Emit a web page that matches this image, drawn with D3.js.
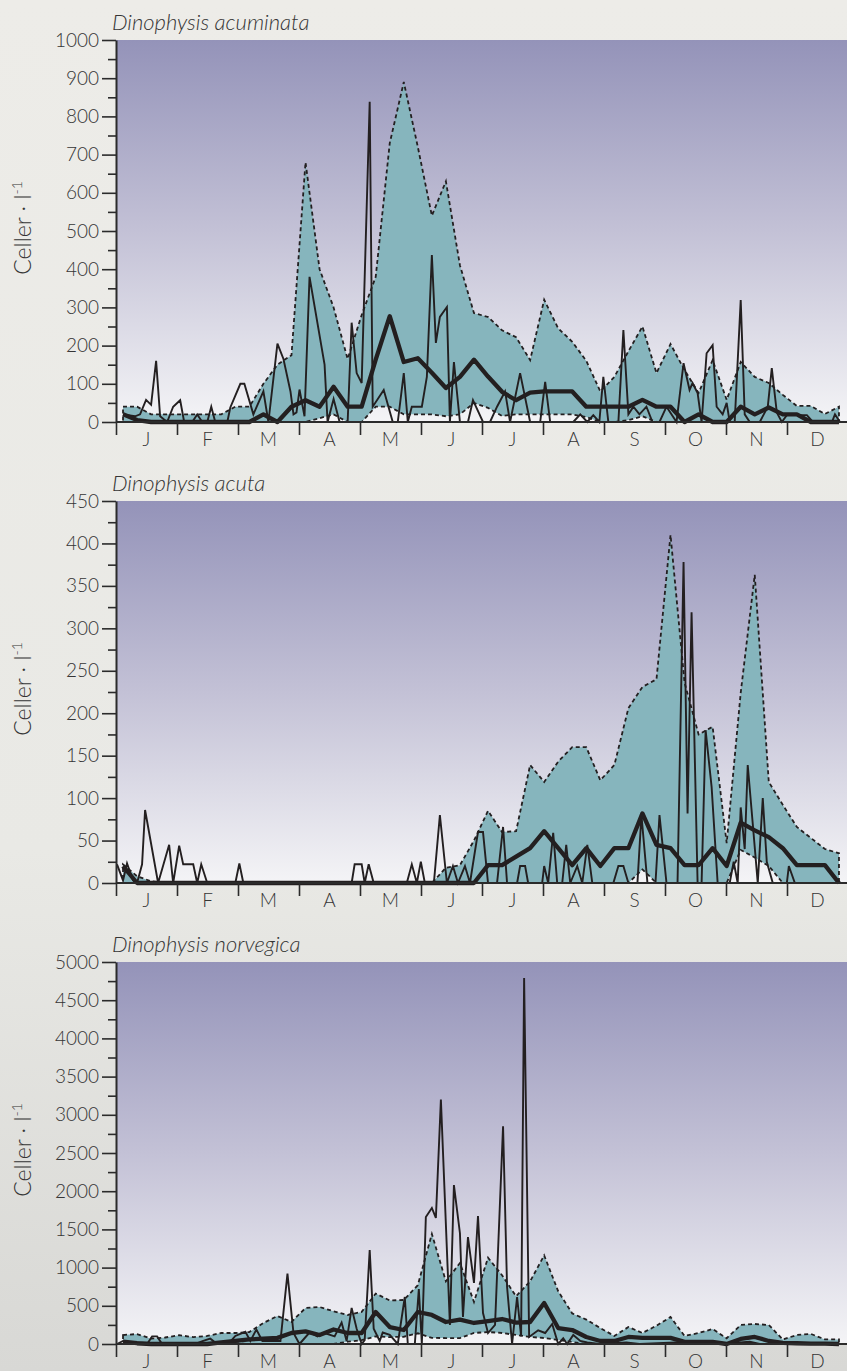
<!doctype html>
<html>
<head>
  <meta charset="utf-8">
  <style>
    html, body { margin:0; padding:0; }
    body {
      width:847px; height:1371px; overflow:hidden;
      background:linear-gradient(#edece8 0%, #e9e9e5 62%, #d8d8d5 100%);
    }
    svg { display:block; }
    text { font-family:Lato, "Open Sans", sans-serif; font-weight:300; fill:#353535; }
  </style>
  <script src="https://cdn.jsdelivr.net/npm/d3@7"></script>
</head>
<body>
<script>
// month labels and week numbers (weekly statistics are plotted mid-week)
var months = ["J","F","M","A","M","J","J","A","S","O","N","D"];
var weeks = d3.range(1, 53);

// Dinophysis acuminata
var acuminataMax = [40,40,20,20,20,20,20,20,40,40,100,150,175,680,400,300,165,280,380,730,890,720,540,630,410,285,275,240,222,162,320,245,210,160,80,118,185,250,128,204,136,76,162,58,157,118,102,71,42,42,21,40];
var acuminataMin = [0,0,0,0,0,0,0,0,0,0,0,0,0,0,10,20,0,0,40,40,20,20,20,15,20,50,37,16,20,20,20,20,20,13,0,0,5,15,0,0,0,0,0,0,0,0,0,0,0,0,0,0];
var acuminataMean = [20,5,0,0,0,0,0,0,0,0,20,0,40,57,40,92,40,40,163,277,157,167,129,89,118,163,119,79,57,77,80,80,80,40,40,40,40,58,40,40,0,20,0,0,40,20,38,20,20,0,0,0];
var acuminataDay = [3.5,9.5,12,15,17.5,20,22,25.5,28.5,32,34,38,40.5,43,45.5,47.5,49.5,55.5,57,62,64,68.5,73.5,76,80.5,83.5,87,88.5,90,91.5,94,96.5,104,105.5,108.5,111.5,115.5,117.5,120,122.5,126.5,128,133.5,138,140.5,143.5,145.5,147.5,152.5,155,157.5,159.5,161.5,165,166.5,168.5,171.5,175.5,178,183,186.5,190,194,196.5,201.5,206.5,211.5,214,216.5,228,231.5,235,238,241,243,245.5,250.5,253,255.5,258,261,264.5,267.5,271,274.5,279.5,283,286,287.5,290,292,294.5,297.5,299.5,302.5,304.5,306,308.5,311.5,313.5,316,321,325,327,329.5,332,334.5,344.5,347.5,357,358.5,361];
var acuminataObs = [20,15,20,58,45,160,15,0,40,57,0,0,20,0,0,40,0,0,38,100,100,20,80,0,205,165,80,20,25,85,15,380,150,0,60,0,0,260,128,102,838,40,84,0,0,128,0,40,40,118,437,207,275,301,0,157,0,0,57,0,0,40,80,0,128,0,0,105,0,0,20,0,18,0,118,0,0,241,20,40,20,40,0,0,40,0,154,84,102,76,0,180,201,40,20,50,0,0,319,20,0,0,40,141,25,0,18,18,0,0,20,0];

// Dinophysis acuta
var acutaMax = [22,8,2,0,0,0,0,0,0,0,0,0,0,0,0,0,0,0,0,0,0,0,0,18,21,50,85,60,61,139,119,143,160,160,121,139,206,231,240,410,236,175,184,47,224,363,119,92,66,53,40,35];
var acutaMin = [0,0,0,0,0,0,0,0,0,0,0,0,0,0,0,0,0,0,0,0,0,0,0,0,0,0,0,0,0,0,0,0,0,0,0,0,0,16,0,0,0,0,0,0,39,30,20,0,0,0,0,0];
var acutaMean = [20,0,0,0,0,0,0,0,0,0,0,0,0,0,0,0,0,0,0,0,0,0,0,0,0,0,21,21,31,41,61,41,21,41,20,41,41,82,45,41,21,21,41,20,71,62,54,41,21,21,21,0];
var acutaDay = [0.5,3.5,5.5,8.5,10.5,13,14.5,21,26.5,28.5,31.5,33.5,38.5,40.5,42.5,45.5,59.5,61.5,63.5,117.5,119,122.5,124,126,128.5,145,147.5,150,152,154,158.5,161.5,165,168,170.5,174,176.5,180.5,183,185.5,190,193,195,200,201.5,204,205.5,212.5,213.5,215.5,218,220,222.5,224.5,226.5,230,232.5,235,237.5,248,250.5,253,255.5,260,262,265,269,271,274.5,280,283,285,287,290,292,294,297,300,306,308,310,311.5,313.5,315,317.5,320,322.5,324.5,327.5,334.5,335.5,338.5,361];
var acutaObs = [22,3,23,3,0,22,86,0,45,0,44,22,22,0,22,0,0,23,0,0,22,22,0,22,0,0,22,0,25,0,0,80,0,20,0,20,0,60,60,0,0,66,0,0,20,20,0,0,20,0,59,0,0,45,0,20,0,45,0,0,20,20,0,0,80,0,0,80,0,0,378,82,319,0,0,180,113,0,0,25,0,89,40,139,70,0,100,25,0,0,20,0,0];

// Dinophysis norvegica
var norvegicaMax = [118,130,70,85,115,90,105,144,144,157,275,366,290,471,484,429,380,420,660,570,576,770,1440,820,1060,550,1130,900,625,820,1160,690,400,320,209,105,222,144,240,353,105,144,196,75,249,262,249,60,118,132,60,60];
var norvegicaMin = [30,20,0,10,15,0,0,10,10,0,0,0,0,0,0,0,30,50,100,90,95,140,80,78,78,144,157,144,118,92,78,52,26,0,0,0,0,0,0,0,0,0,0,0,0,0,0,0,0,0,0,0];
var norvegicaMean = [30,10,0,0,0,0,0,20,40,60,70,80,144,166,118,190,144,144,419,222,183,419,380,288,320,275,300,327,280,288,537,209,183,92,40,40,92,80,80,80,27,27,27,0,66,92,40,15,10,5,5,0];
var norvegicaDay = [0.5,3.5,8.5,15.5,18,20.5,23,39.5,43.5,47,50.5,56,59.5,64.5,67,70,73,82,85.5,88.5,91.5,96.5,100.5,104,109,112.5,115,117.5,120,122.5,124,126.5,128.5,131.5,133,136.5,140.5,144,145.5,149,151,152.5,154.5,157.5,159.5,162,166.5,168.5,171.5,173,175.5,178.5,180.5,183,185.5,189,193,195,197.5,200,202,203.5,206,210.5,214,217.5,220.5,223,225,228,231.5,235,241,254.5,261,297,301,316,321,361];
var norvegicaObs = [0,40,0,0,100,100,0,0,40,70,0,0,105,160,40,190,40,40,920,144,0,150,100,144,100,280,40,471,200,0,50,1230,200,40,150,120,0,615,0,0,720,0,1662,1780,1650,3200,250,2080,1450,355,1400,800,1675,405,144,250,2850,746,0,615,100,4790,92,180,144,262,0,75,0,118,40,20,0,20,0,40,0,30,0,0];

var panels = [
  {title:"Dinophysis acuminata", top:40, max:1000, step:100,
   hi:acuminataMax, lo:acuminataMin, mean:acuminataMean, day:acuminataDay, obs:acuminataObs},
  {title:"Dinophysis acuta", top:501, max:450, step:50,
   hi:acutaMax, lo:acutaMin, mean:acutaMean, day:acutaDay, obs:acutaObs},
  {title:"Dinophysis norvegica", top:962, max:5000, step:500,
   hi:norvegicaMax, lo:norvegicaMin, mean:norvegicaMean, day:norvegicaDay, obs:norvegicaObs}
];

var width = 847, height = 1371, left = 116, plotH = 382;
var weekDay = weeks.map(function(w) { return (w - 0.5) * 7; });

var x = d3.scaleLinear().domain([0, 365]).range([left, 848]);
var xMonth = d3.scaleLinear().domain([0, 12]).range([left, 848]);

var svg = d3.select("body").append("svg")
    .attr("width", width)
    .attr("height", height);

var grad = svg.append("defs").append("linearGradient")
    .attr("id", "sky")
    .attr("x1", 0).attr("y1", 0).attr("x2", 0).attr("y2", 1);
grad.append("stop").attr("offset", "0%").attr("stop-color", "#9493b9");
grad.append("stop").attr("offset", "50%").attr("stop-color", "#c3c1d6");
grad.append("stop").attr("offset", "100%").attr("stop-color", "#f4f4f6");

panels.forEach(function(p) {
  var g = svg.append("g");
  var y = d3.scaleLinear().domain([0, p.max]).range([p.top + plotH, p.top]);
  var y0 = y(0);

  g.append("rect")
    .attr("x", left)
    .attr("y", p.top)
    .attr("width", width - left)
    .attr("height", plotH)
    .attr("fill", "url(#sky)");

  // min-max envelope
  var band = d3.area()
    .x(function(d, i) { return x(weekDay[i]); })
    .y0(function(d, i) { return y(p.lo[i]); })
    .y1(function(d) { return y(d); });

  g.append("path")
    .datum(p.hi)
    .attr("d", band)
    .attr("fill", "#86b5bd")
    .attr("stroke", "#231f20")
    .attr("stroke-width", 1.8)
    .attr("stroke-dasharray", "4,3");

  // observations
  var obsLine = d3.line()
    .x(function(d, i) { return x(p.day[i]); })
    .y(function(d) { return y(d); });

  g.append("path")
    .datum(p.obs)
    .attr("d", obsLine)
    .attr("fill", "none")
    .attr("stroke", "#231f20")
    .attr("stroke-width", 1.9);

  // weekly mean
  var meanLine = d3.line()
    .x(function(d, i) { return x(weekDay[i]); })
    .y(function(d) { return y(d); });

  g.append("path")
    .datum(p.mean)
    .attr("d", meanLine)
    .attr("fill", "none")
    .attr("stroke", "#231f20")
    .attr("stroke-width", 4.3)
    .attr("stroke-linejoin", "round");

  // y axis
  var yAxis = g.append("g")
    .attr("transform", "translate(" + left + ",0)")
    .call(d3.axisLeft(y)
      .tickValues(d3.range(0, p.max + 1, p.step))
      .tickFormat(d3.format("d"))
      .tickSize(14).tickSizeOuter(0).tickPadding(3));
  yAxis.select(".domain").attr("stroke", "#2b2b2b").attr("stroke-width", 2);
  yAxis.selectAll(".tick line").attr("stroke", "#2b2b2b").attr("stroke-width", 1.6);
  yAxis.selectAll(".tick text")
    .style("font-family", "Lato, 'Open Sans', sans-serif")
    .style("font-size", "19px")
    .attr("fill", "#353535");

  var minor = g.append("g")
    .attr("transform", "translate(" + left + ",0)")
    .call(d3.axisLeft(y)
      .tickValues(d3.range(p.step / 2, p.max, p.step))
      .tickSize(8).tickSizeOuter(0).tickFormat(""));
  minor.select(".domain").remove();
  minor.selectAll(".tick line").attr("stroke", "#2b2b2b").attr("stroke-width", 1.6);

  // x axis
  g.append("line")
    .attr("x1", left).attr("x2", width)
    .attr("y1", y0).attr("y2", y0)
    .attr("stroke", "#2b2b2b")
    .attr("stroke-width", 2);

  var xAxis = g.append("g")
    .attr("transform", "translate(0," + y0 + ")")
    .call(d3.axisBottom(xMonth)
      .tickValues(d3.range(0, 12))
      .tickSize(13).tickSizeOuter(0).tickFormat(""));
  xAxis.select(".domain").remove();
  xAxis.selectAll(".tick line").attr("stroke", "#2b2b2b").attr("stroke-width", 1.6);

  g.selectAll(".month")
    .data(months)
    .enter().append("text")
      .attr("class", "month")
      .attr("x", function(d, i) { return xMonth(i + 0.5); })
      .attr("y", y0 + 24)
      .attr("text-anchor", "middle")
      .style("font-size", "19px")
      .text(function(d) { return d; });

  // titles
  g.append("text")
    .attr("x", 112)
    .attr("y", p.top - 10)
    .style("font-size", "22px")
    .style("font-style", "italic")
    .text(p.title);

  var yt = g.append("text")
    .attr("transform", "translate(31," + (p.top + 188) + ") rotate(-90)")
    .attr("text-anchor", "middle")
    .style("font-size", "23px")
    .text("Celler · l");
  yt.append("tspan")
    .attr("dy", -9)
    .style("font-size", "14px")
    .text("-1");
});
</script>
</body>
</html>
